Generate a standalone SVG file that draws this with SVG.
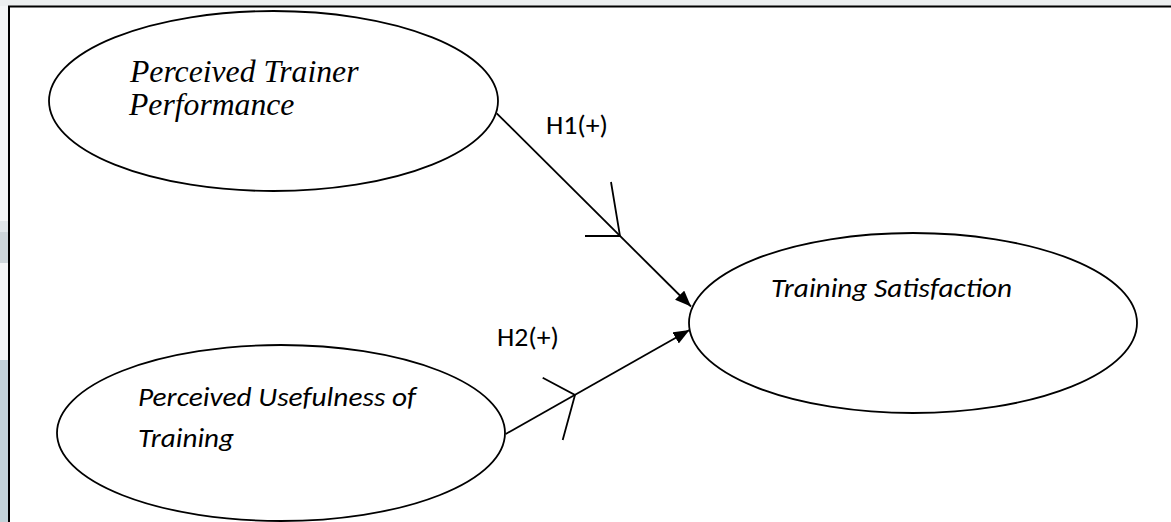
<svg xmlns="http://www.w3.org/2000/svg" width="1171" height="522" viewBox="0 0 1171 522">
<defs>
<style>
.node{fill:#fff;stroke:#000;stroke-width:1.8}
.serif{font-family:"Liberation Serif","Times New Roman",serif;font-style:italic;font-size:31.7px;fill:#000}
.sans{font-family:Carlito,Lato,"Liberation Sans",sans-serif;font-size:26px;fill:#000}
.it{font-style:italic}
.conn{stroke:#000;stroke-width:1.8;fill:none}
</style>
<marker id="ah" markerUnits="userSpaceOnUse" markerWidth="17" markerHeight="14" refX="16" refY="6.5" orient="auto">
<path d="M0,0 L16,6.5 L0,13 z" fill="#000"/>
</marker>
</defs>
<g id="background">
<rect x="0" y="0" width="1171" height="522" fill="#f4f6f7"/>
<rect x="0" y="0" width="1171" height="6" fill="#eceff0"/>
<rect x="0" y="221" width="9" height="11" fill="#e1e7ea"/>
<rect x="0" y="232" width="9" height="31" fill="#cdd6da"/>
<rect x="0" y="360" width="9" height="162" fill="#c3d3d9"/>
<rect x="9" y="6.5" width="1200" height="600" fill="#fff" stroke="#000" stroke-width="2"/>
</g>
<g id="node-ptp">
<ellipse class="node" cx="273.5" cy="101" rx="224.5" ry="90"/>
<text class="serif" x="130" y="82">Perceived Trainer</text>
<text class="serif" x="129" y="115">Performance</text>
</g>
<g id="node-put">
<ellipse class="node" cx="281" cy="433" rx="224" ry="88"/>
<text class="sans it" x="138" y="406" textLength="278" lengthAdjust="spacingAndGlyphs">Perceived Usefulness of</text>
<text class="sans it" x="138" y="447" textLength="96" lengthAdjust="spacingAndGlyphs">Training</text>
</g>
<g id="node-ts">
<ellipse class="node" cx="913" cy="323" rx="224" ry="90"/>
<text class="sans it" x="771" y="297" textLength="241" lengthAdjust="spacingAndGlyphs">Training Satisfaction</text>
</g>
<g id="connectors">
<path class="conn" d="M496.7,113.3 L691,306.5" marker-end="url(#ah)"/>
<polyline class="conn" points="611,182 620,236 585,236"/>
<text class="sans" x="546" y="134" textLength="62" lengthAdjust="spacingAndGlyphs">H1(+)</text>
<path class="conn" d="M505.7,434 L689.5,330" marker-end="url(#ah)"/>
<polyline class="conn" points="542.7,377.7 575,395 562.7,440"/>
<text class="sans" x="497" y="346" textLength="62" lengthAdjust="spacingAndGlyphs">H2(+)</text>
</g>
</svg>
